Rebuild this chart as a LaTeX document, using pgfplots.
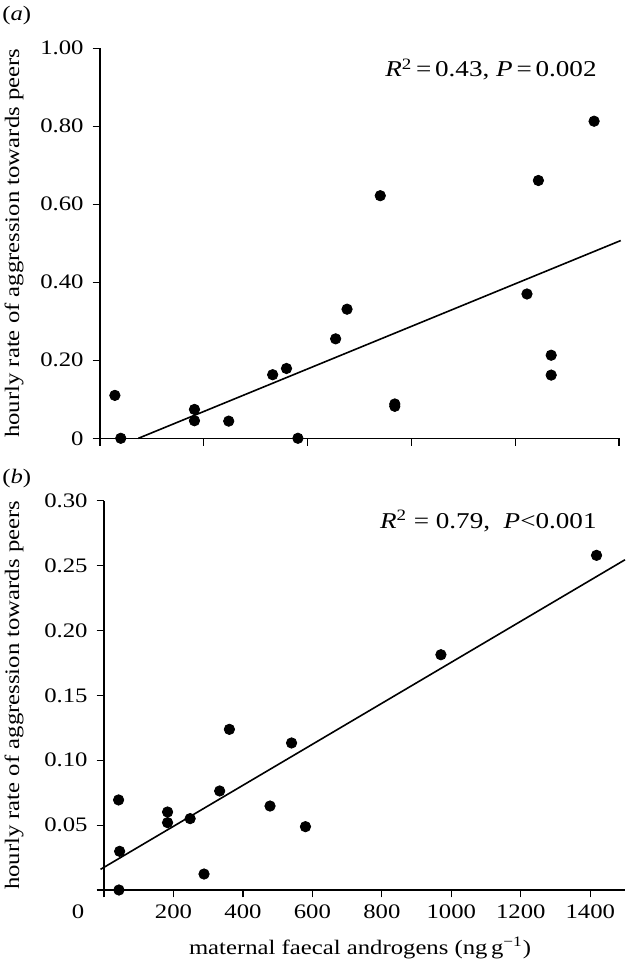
\documentclass[border=0pt]{standalone}
\usepackage{fontspec}
\setmainfont{Liberation Serif}[FakeStretch=1.2]
\usepackage{pgfplots}
\pgfplotsset{compat=1.18}

% aggression rate vs maternal androgens, two panels
\pgfplotsset{
  panel/.style={
    scale only axis,
    axis x line*=bottom, axis y line*=left,
    axis line style={line width=0.6pt, -},
    tick align=outside, major tick length=3.7pt,
    every tick/.style={line width=0.6pt, black},
    clip=false,
    xmin=0, xmax=1500,
    yticklabel style={xshift=-1pt},
    ylabel={hourly rate of aggression towards peers},
    ylabel style={at={(axis description cs:0,0.5)}, anchor=center},
  },
  dots/.style={only marks, mark=*, mark size=2.6pt, black},
  fit/.style={no marks, line width=0.8pt, black},
}

\begin{document}
\begin{tikzpicture}[font=\fontsize{10.3}{12.4}\selectfont]
\path[use as bounding box] (0,0) rectangle (313pt,480.5pt);

% (a)
\begin{axis}[panel,
  at={(50pt,261.35pt)}, anchor=south west,
  width=259.5pt, height=195pt,
  ymin=0, ymax=1,
  xtick={0,300,...,1500}, xticklabels={},
  ytick={0,0.2,0.4,0.6,0.8,1},
  yticklabels={0,0.20,0.40,0.60,0.80,1.00},
  ylabel style={yshift=43pt},
]
\addplot[dots] coordinates {
 (43,0.110) (60,0) (273,0.074) (273,0.045) (372,0.044) (572,0)
 (499,0.163) (539,0.179) (681,0.255) (714,0.331) (810,0.622)
 (852,0.088) (852,0.082) (1234,0.370) (1267,0.661) (1304,0.213)
 (1304,0.162) (1428,0.813)
};
\addplot[fit] coordinates {(111,0) (1505,0.507)};
\node[anchor=base east, inner sep=0pt, font=\fontsize{11.3}{13}\selectfont]
  at (rel axis cs:1,1) [xshift=-11pt, yshift=-14.35pt]
  {\textit{R}\textsuperscript{2}\,=\,0.43, \textit{P}\,=\,0.002};
\end{axis}
\node[anchor=base west, inner sep=0pt] at (1pt,470pt) {(\textit{a})};

% (b)
\begin{axis}[panel,
  at={(52pt,35.5pt)}, anchor=south west,
  width=260.5pt, height=194.65pt,
  ymin=0, ymax=0.3,
  xtick={0,200,...,1400},
  xticklabels={\makebox[0pt][r]{0\hspace{9.9pt}},200,400,600,800,1000,1200,1400},
  ytick={0,0.05,...,0.3},
  yticklabels={,0.05,0.10,0.15,0.20,0.25,0.30},
  ylabel style={yshift=45pt},
  xlabel={maternal faecal androgens (ng\,g\textsuperscript{−1})},
  xlabel style={at={(axis description cs:0.5,0)}, anchor=center, xshift=-2.25pt, yshift=-29pt},
]
\addplot[dots] coordinates {
 (42,0.0694) (45,0.0298) (43,0) (183,0.0601) (183,0.0519) (248,0.0550)
 (288,0.0123) (333,0.0763) (361,0.1238) (478,0.0647) (540,0.1133)
 (580,0.0488) (970,0.1813) (1418,0.2579)
};
\addplot[fit] coordinates {(-10,0.0159) (1500,0.2545)};
\node[anchor=base east, inner sep=0pt, font=\fontsize{11.3}{13}\selectfont]
  at (rel axis cs:1,1) [xshift=-14pt, yshift=-13.8pt]
  {\textit{R}\textsuperscript{2} = 0.79,\ \ \textit{P}<0.001};
\end{axis}
\node[anchor=base west, inner sep=0pt] at (1pt,238.5pt) {(\textit{b})};
\end{tikzpicture}
\end{document}
